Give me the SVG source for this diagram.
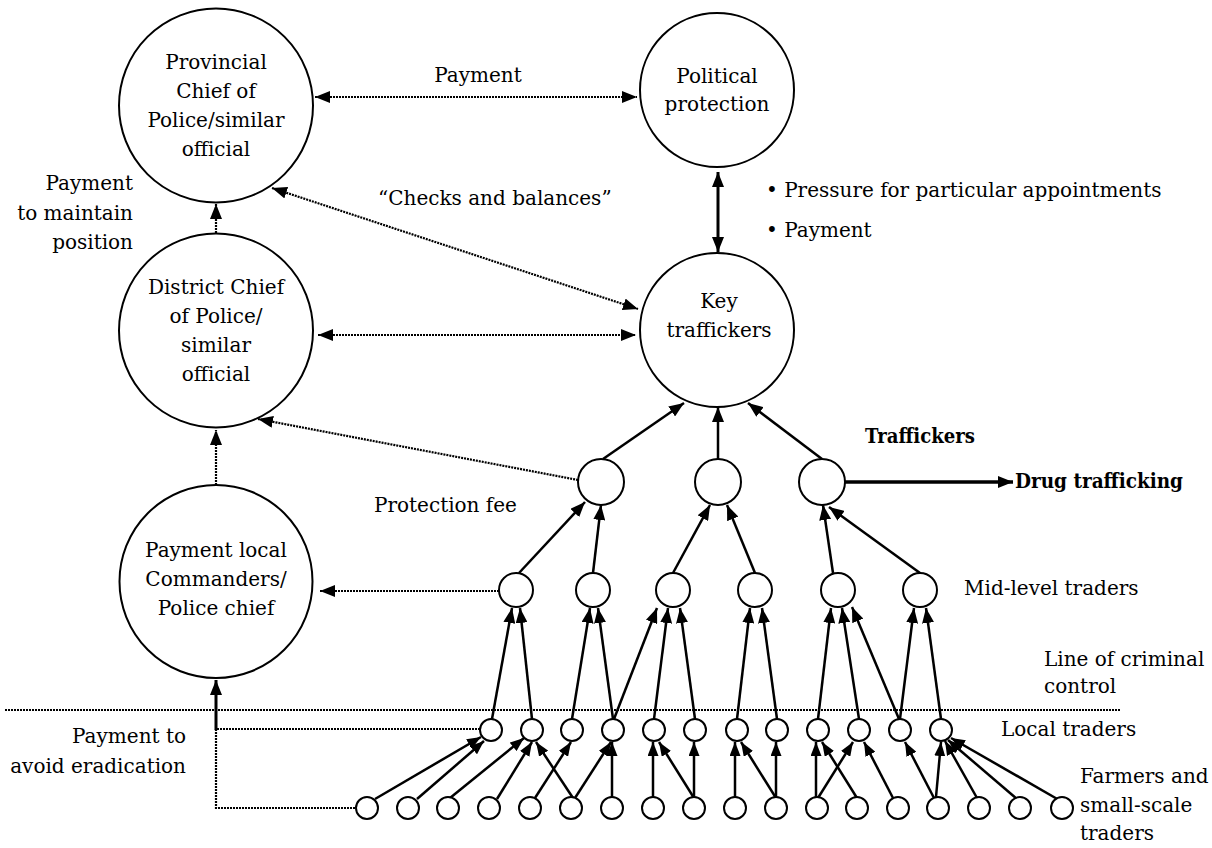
<svg xmlns="http://www.w3.org/2000/svg" width="1212" height="848" viewBox="0 0 1212 848">
<style>
text{font-family:"DejaVu Serif","Liberation Serif",serif;font-size:20px;fill:#000}
.c{text-anchor:middle}
.r{text-anchor:end}
.b{font-weight:bold}
.n circle{fill:#fff;stroke:#000;stroke-width:2}
.dot{stroke:#000;stroke-width:2.2;stroke-dasharray:2 1;fill:none}
.sol{stroke:#000;stroke-width:2.5;fill:none}
.thk{stroke:#000;stroke-width:3;fill:none}
</style>
<defs>
<marker id="a" viewBox="0 0 15 12" refX="15" refY="6" markerWidth="15" markerHeight="12" markerUnits="userSpaceOnUse" orient="auto-start-reverse"><path d="M0,0L15,6L0,12z" fill="#000"/></marker>
<marker id="s" viewBox="0 0 14 11" refX="14" refY="5.5" markerWidth="14" markerHeight="11" markerUnits="userSpaceOnUse" orient="auto-start-reverse"><path d="M0,0L14,5.5L0,11z" fill="#000"/></marker>
</defs>
<rect width="1212" height="848" fill="#fff"/>
<g id="connectors">
<line class="dot" x1="5" y1="710" x2="1120" y2="710"/>
<line class="dot" x1="315" y1="97" x2="637" y2="97" marker-start="url(#a)" marker-end="url(#a)"/>
<line class="dot" x1="272" y1="188" x2="638" y2="309" marker-start="url(#a)" marker-end="url(#a)"/>
<line class="dot" x1="318" y1="335" x2="636" y2="335" marker-start="url(#a)" marker-end="url(#a)"/>
<line class="dot" x1="216" y1="233" x2="216" y2="204" marker-end="url(#a)"/>
<line class="dot" x1="216" y1="485" x2="216" y2="430" marker-end="url(#a)"/>
<line class="dot" x1="578" y1="480" x2="258" y2="419" marker-end="url(#a)"/>
<line class="dot" x1="499" y1="591" x2="320" y2="591" marker-end="url(#a)"/>
<path class="dot" d="M480,729H216V808H356"/>
<line class="thk" x1="216" y1="730" x2="216" y2="680" marker-end="url(#a)"/>
<line class="thk" x1="718" y1="172" x2="718" y2="252" marker-start="url(#a)" marker-end="url(#a)"/>
<line class="thk" x1="845" y1="482" x2="1013" y2="482" marker-end="url(#a)" style="stroke-width:3.5"/>
<g class="sol" marker-end="url(#a)">
<line x1="603" y1="459" x2="684" y2="403"/>
<line x1="718" y1="459" x2="718" y2="407"/>
<line x1="822" y1="459" x2="748" y2="403"/>
<line x1="519" y1="573" x2="585" y2="502"/>
<line x1="593" y1="573" x2="601" y2="505"/>
<line x1="673" y1="573" x2="710" y2="505"/>
<line x1="755" y1="573" x2="727" y2="505"/>
<line x1="833" y1="573" x2="823" y2="505"/>
<line x1="920" y1="573" x2="829" y2="507"/>
<line x1="492" y1="719" x2="512" y2="608"/>
<line x1="532" y1="719" x2="520" y2="608"/>
<line x1="572" y1="719" x2="590" y2="608"/>
<line x1="613" y1="719" x2="598" y2="608"/>
<line x1="614" y1="719" x2="657" y2="608"/>
<line x1="654" y1="719" x2="668" y2="608"/>
<line x1="695" y1="719" x2="680" y2="608"/>
<line x1="737" y1="719" x2="750" y2="608"/>
<line x1="777" y1="719" x2="762" y2="608"/>
<line x1="818" y1="719" x2="831" y2="608"/>
<line x1="859" y1="719" x2="842" y2="608"/>
<line x1="899" y1="719" x2="852" y2="607"/>
<line x1="900" y1="719" x2="914" y2="608"/>
<line x1="941" y1="719" x2="926" y2="608"/>
</g>
<g class="sol" marker-end="url(#s)">
<line x1="375" y1="799" x2="481" y2="737"/>
<line x1="417" y1="799" x2="484" y2="741"/>
<line x1="450" y1="798" x2="524" y2="738"/>
<line x1="497" y1="799" x2="532" y2="742"/>
<line x1="573" y1="798" x2="536" y2="742"/>
<line x1="535" y1="798" x2="571" y2="742"/>
<line x1="575" y1="798" x2="611" y2="742"/>
<line x1="612" y1="797" x2="612" y2="742"/>
<line x1="653" y1="797" x2="653" y2="742"/>
<line x1="694" y1="798" x2="659" y2="742"/>
<line x1="694" y1="797" x2="694" y2="742"/>
<line x1="735" y1="797" x2="735" y2="742"/>
<line x1="776" y1="798" x2="741" y2="742"/>
<line x1="776" y1="797" x2="776" y2="742"/>
<line x1="816" y1="797" x2="816" y2="742"/>
<line x1="857" y1="798" x2="822" y2="742"/>
<line x1="818" y1="798" x2="853" y2="742"/>
<line x1="893" y1="798" x2="864" y2="742"/>
<line x1="934" y1="798" x2="905" y2="742"/>
<line x1="936" y1="797" x2="941" y2="742"/>
<line x1="977" y1="798" x2="945" y2="741"/>
<line x1="1017" y1="799" x2="948" y2="740"/>
<line x1="1059" y1="800" x2="951" y2="738"/>
</g>
</g>
<g id="provincial" class="n"><circle cx="216" cy="105.5" r="97"/>
<text class="c" x="216" y="69">Provincial</text><text class="c" x="216" y="98">Chief of</text><text class="c" x="216" y="127">Police/similar</text><text class="c" x="216" y="156">official</text></g>
<g id="political" class="n"><circle cx="717" cy="90" r="77"/>
<text class="c" x="717" y="83">Political</text><text class="c" x="717" y="111">protection</text></g>
<g id="district" class="n"><circle cx="216" cy="330.5" r="97"/>
<text class="c" x="216" y="294">District Chief</text><text class="c" x="216" y="323">of Police/</text><text class="c" x="216" y="352">similar</text><text class="c" x="216" y="381">official</text></g>
<g id="key" class="n"><circle cx="717" cy="330" r="77"/>
<text class="c" x="719" y="308">Key</text><text class="c" x="719" y="337">traffickers</text></g>
<g id="paylocal" class="n"><circle cx="216" cy="581.5" r="96.5"/>
<text class="c" x="216" y="557">Payment local</text><text class="c" x="216" y="586">Commanders/</text><text class="c" x="216" y="615">Police chief</text></g>
<g id="t1" class="n"><circle cx="601" cy="482" r="23"/></g>
<g id="t2" class="n"><circle cx="718" cy="482" r="23"/></g>
<g id="t3" class="n"><circle cx="822" cy="482" r="23"/></g>
<g id="m1" class="n"><circle cx="516" cy="590" r="17"/></g>
<g id="m2" class="n"><circle cx="593" cy="590" r="17"/></g>
<g id="m3" class="n"><circle cx="673" cy="590" r="17"/></g>
<g id="m4" class="n"><circle cx="755" cy="590" r="17"/></g>
<g id="m5" class="n"><circle cx="838" cy="590" r="17"/></g>
<g id="m6" class="n"><circle cx="920" cy="590" r="17"/></g>
<g id="l1" class="n"><circle cx="491" cy="730" r="11"/></g>
<g id="l2" class="n"><circle cx="532" cy="730" r="11"/></g>
<g id="l3" class="n"><circle cx="572" cy="730" r="11"/></g>
<g id="l4" class="n"><circle cx="613" cy="730" r="11"/></g>
<g id="l5" class="n"><circle cx="654" cy="730" r="11"/></g>
<g id="l6" class="n"><circle cx="695" cy="730" r="11"/></g>
<g id="l7" class="n"><circle cx="737" cy="730" r="11"/></g>
<g id="l8" class="n"><circle cx="777" cy="730" r="11"/></g>
<g id="l9" class="n"><circle cx="818" cy="730" r="11"/></g>
<g id="l10" class="n"><circle cx="859" cy="730" r="11"/></g>
<g id="l11" class="n"><circle cx="900" cy="730" r="11"/></g>
<g id="l12" class="n"><circle cx="941" cy="730" r="11"/></g>
<g id="f1" class="n"><circle cx="367" cy="808" r="11"/></g>
<g id="f2" class="n"><circle cx="408" cy="808" r="11"/></g>
<g id="f3" class="n"><circle cx="448" cy="808" r="11"/></g>
<g id="f4" class="n"><circle cx="489" cy="808" r="11"/></g>
<g id="f5" class="n"><circle cx="530" cy="808" r="11"/></g>
<g id="f6" class="n"><circle cx="571" cy="808" r="11"/></g>
<g id="f7" class="n"><circle cx="612" cy="808" r="11"/></g>
<g id="f8" class="n"><circle cx="653" cy="808" r="11"/></g>
<g id="f9" class="n"><circle cx="694" cy="808" r="11"/></g>
<g id="f10" class="n"><circle cx="735" cy="808" r="11"/></g>
<g id="f11" class="n"><circle cx="776" cy="808" r="11"/></g>
<g id="f12" class="n"><circle cx="817" cy="808" r="11"/></g>
<g id="f13" class="n"><circle cx="857" cy="808" r="11"/></g>
<g id="f14" class="n"><circle cx="898" cy="808" r="11"/></g>
<g id="f15" class="n"><circle cx="938" cy="808" r="11"/></g>
<g id="f16" class="n"><circle cx="979" cy="808" r="11"/></g>
<g id="f17" class="n"><circle cx="1020" cy="808" r="11"/></g>
<g id="f18" class="n"><circle cx="1062" cy="808" r="11"/></g>
<g id="labels">
<text class="c" x="478" y="82">Payment</text>
<text class="r" x="133" y="190">Payment</text>
<text class="r" x="133" y="220">to maintain</text>
<text class="r" x="133" y="249">position</text>
<text x="378" y="205">“Checks and balances”</text>
<text x="766" y="197">• Pressure for particular appointments</text>
<text x="766" y="237">• Payment</text>
<text x="374" y="512">Protection fee</text>
<text class="b" x="865" y="443" textLength="110" lengthAdjust="spacingAndGlyphs">Traffickers</text>
<text class="b" x="1015" y="488" textLength="168" lengthAdjust="spacingAndGlyphs">Drug trafficking</text>
<text x="964" y="595">Mid-level traders</text>
<text x="1044" y="666">Line of criminal</text>
<text x="1044" y="693">control</text>
<text x="1001" y="736">Local traders</text>
<text class="r" x="186" y="743">Payment to</text>
<text class="r" x="186" y="773">avoid eradication</text>
<text x="1080" y="783">Farmers and</text>
<text x="1080" y="812">small-scale</text>
<text x="1080" y="840">traders</text>
</g>
</svg>
